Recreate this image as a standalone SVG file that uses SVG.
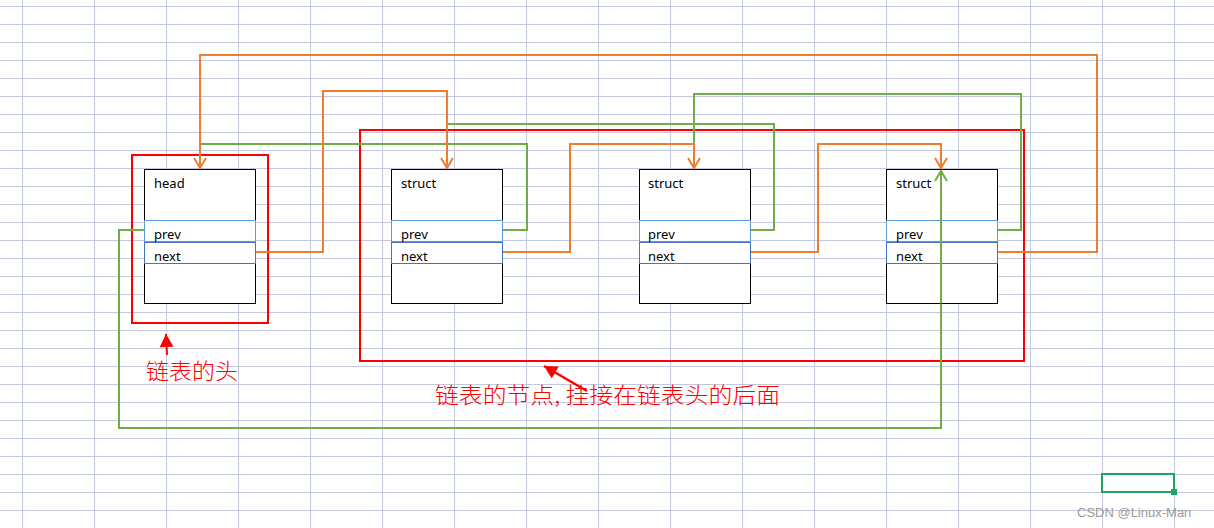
<svg xmlns="http://www.w3.org/2000/svg" width="1214" height="528" viewBox="0 0 1214 528">
<style>
.grid line{stroke:#c3c9dc;stroke-width:1}
.box{fill:#fff;stroke:#000;stroke-width:1}
.prevband{fill:none;stroke:#5b9bd5;stroke-width:1}
.nextband{fill:none;stroke:#4472c4;stroke-width:1}
.lbl{font-family:"Noto Sans","Liberation Sans",sans-serif;font-size:13px;fill:#000}
.frame{fill:none;stroke:#ff0000;stroke-width:2}
.or{fill:none;stroke:#ed7d31;stroke-width:2}
.gr{fill:none;stroke:#70ad47;stroke-width:2}
.note{font-family:"Noto Sans CJK SC",sans-serif;font-size:22px;font-weight:300;fill:#ff0000}
</style>
<defs>
<marker id="aOr" viewBox="-12 -8 14 16" markerWidth="14" markerHeight="16" refX="0" refY="0" orient="auto" markerUnits="userSpaceOnUse">
<path d="M-10,-6 L0,0 L-10,6" fill="none" stroke="#ed7d31" stroke-width="2"/>
</marker>
<marker id="aGr" viewBox="-12 -8 14 16" markerWidth="14" markerHeight="16" refX="0" refY="0" orient="auto" markerUnits="userSpaceOnUse">
<path d="M-10,-6 L0,0 L-10,6" fill="none" stroke="#70ad47" stroke-width="2"/>
</marker>
<marker id="aRed" viewBox="-16 -8 18 16" markerWidth="18" markerHeight="16" refX="0" refY="0" orient="auto" markerUnits="userSpaceOnUse">
<path d="M-13,-7 L0,0 L-13,7 Z" fill="#ff0000"/>
</marker>
</defs>
<rect x="0" y="0" width="1214" height="528" fill="#fff"/>
<g class="grid" id="grid">
<line x1="22.5" y1="0" x2="22.5" y2="528"/><line x1="94.5" y1="0" x2="94.5" y2="528"/><line x1="166.5" y1="0" x2="166.5" y2="528"/><line x1="238.5" y1="0" x2="238.5" y2="528"/><line x1="310.5" y1="0" x2="310.5" y2="528"/><line x1="382.5" y1="0" x2="382.5" y2="528"/><line x1="454.5" y1="0" x2="454.5" y2="528"/><line x1="526.5" y1="0" x2="526.5" y2="528"/><line x1="598.5" y1="0" x2="598.5" y2="528"/><line x1="670.5" y1="0" x2="670.5" y2="528"/><line x1="742.5" y1="0" x2="742.5" y2="528"/><line x1="814.5" y1="0" x2="814.5" y2="528"/><line x1="886.5" y1="0" x2="886.5" y2="528"/><line x1="958.5" y1="0" x2="958.5" y2="528"/><line x1="1030.5" y1="0" x2="1030.5" y2="528"/><line x1="1102.5" y1="0" x2="1102.5" y2="528"/><line x1="1174.5" y1="0" x2="1174.5" y2="528"/>
<line x1="0" y1="6.5" x2="1214" y2="6.5"/><line x1="0" y1="24.5" x2="1214" y2="24.5"/><line x1="0" y1="42.5" x2="1214" y2="42.5"/><line x1="0" y1="60.5" x2="1214" y2="60.5"/><line x1="0" y1="78.5" x2="1214" y2="78.5"/><line x1="0" y1="96.5" x2="1214" y2="96.5"/><line x1="0" y1="114.5" x2="1214" y2="114.5"/><line x1="0" y1="132.5" x2="1214" y2="132.5"/><line x1="0" y1="150.5" x2="1214" y2="150.5"/><line x1="0" y1="168.5" x2="1214" y2="168.5"/><line x1="0" y1="186.5" x2="1214" y2="186.5"/><line x1="0" y1="204.5" x2="1214" y2="204.5"/><line x1="0" y1="222.5" x2="1214" y2="222.5"/><line x1="0" y1="240.5" x2="1214" y2="240.5"/><line x1="0" y1="258.5" x2="1214" y2="258.5"/><line x1="0" y1="276.5" x2="1214" y2="276.5"/><line x1="0" y1="294.5" x2="1214" y2="294.5"/><line x1="0" y1="312.5" x2="1214" y2="312.5"/><line x1="0" y1="330.5" x2="1214" y2="330.5"/><line x1="0" y1="348.5" x2="1214" y2="348.5"/><line x1="0" y1="366.5" x2="1214" y2="366.5"/><line x1="0" y1="384.5" x2="1214" y2="384.5"/><line x1="0" y1="402.5" x2="1214" y2="402.5"/><line x1="0" y1="420.5" x2="1214" y2="420.5"/><line x1="0" y1="438.5" x2="1214" y2="438.5"/><line x1="0" y1="456.5" x2="1214" y2="456.5"/><line x1="0" y1="474.5" x2="1214" y2="474.5"/><line x1="0" y1="492.5" x2="1214" y2="492.5"/><line x1="0" y1="510.5" x2="1214" y2="510.5"/>
</g>
<g id="frames">
<rect class="frame" x="132" y="155" width="136" height="168"/>
<rect class="frame" x="360" y="130" width="664" height="231"/>
</g>
<g id="connectors">
<path class="gr" d="M144,230 H119 V428 H941 V171" marker-end="url(#aGr)"/>
<path class="gr" d="M502,230 H527 V144 H200"/>
<path class="gr" d="M750,230 H774 V124 H447"/>
<path class="gr" d="M997,230 H1021 V94 H694 V144"/>
<path class="or" d="M997,252 H1097 V55 H200 V168" marker-end="url(#aOr)"/>
<path class="or" d="M255,252 H323 V91 H447 V168" marker-end="url(#aOr)"/>
<path class="or" d="M502,252 H570 V144 H694 V168" marker-end="url(#aOr)"/>
<path class="or" d="M750,252 H818 V144 H941 V168" marker-end="url(#aOr)"/>
</g>
<g id="node-head">
<rect class="box" x="144.5" y="169.5" width="111" height="134"/>
<rect class="prevband" x="144.5" y="220.5" width="111" height="21"/>
<rect class="nextband" x="144.5" y="242.5" width="111" height="21"/>
<text class="lbl" x="154" y="188">head</text>
<text class="lbl" x="154" y="239">prev</text>
<text class="lbl" x="154" y="261">next</text>
</g>
<g id="node-struct1">
<rect class="box" x="391.5" y="169.5" width="111" height="134"/>
<rect class="prevband" x="391.5" y="220.5" width="111" height="21"/>
<rect class="nextband" x="391.5" y="242.5" width="111" height="21"/>
<text class="lbl" x="401" y="188">struct</text>
<text class="lbl" x="401" y="239">prev</text>
<text class="lbl" x="401" y="261">next</text>
</g>
<g id="node-struct2">
<rect class="box" x="639.5" y="169.5" width="111" height="134"/>
<rect class="prevband" x="639.5" y="220.5" width="111" height="21"/>
<rect class="nextband" x="639.5" y="242.5" width="111" height="21"/>
<text class="lbl" x="648" y="188">struct</text>
<text class="lbl" x="648" y="239">prev</text>
<text class="lbl" x="648" y="261">next</text>
</g>
<g id="node-struct3">
<rect class="box" x="886.5" y="169.5" width="111" height="134"/>
<rect class="prevband" x="886.5" y="220.5" width="111" height="21"/>
<rect class="nextband" x="886.5" y="242.5" width="111" height="21"/>
<text class="lbl" x="896" y="188">struct</text>
<text class="lbl" x="896" y="239">prev</text>
<text class="lbl" x="896" y="261">next</text>
</g>
<g id="green-overlay">
<line x1="941" y1="303.5" x2="941" y2="172" stroke="#70ad47" stroke-width="2"/>
<path d="M935,181 L941,171 L947,181" fill="none" stroke="#70ad47" stroke-width="2"/>
</g>
<g id="annotations">
<line x1="167" y1="355" x2="166" y2="334" stroke="#ff0000" stroke-width="2" marker-end="url(#aRed)"/>
<text class="note" x="146" y="379" textLength="92" lengthAdjust="spacingAndGlyphs">链表的头</text>
<line x1="587" y1="391" x2="544" y2="366" stroke="#ff0000" stroke-width="2.5" marker-end="url(#aRed)"/>
<text class="note" x="435" y="403" textLength="345" lengthAdjust="spacingAndGlyphs">链表的节点, 挂接在链表头的后面</text>
</g>
<g id="excel-selection">
<rect x="1102" y="474" width="72" height="18" fill="none" stroke="#21a366" stroke-width="2"/>
<rect x="1171" y="489" width="6" height="6" fill="#21a366"/>
</g>
<text x="1077" y="517" font-family="Liberation Sans, Arial, sans-serif" font-size="13" fill="#9a9a9a">CSDN @Linux-Man</text>
</svg>
